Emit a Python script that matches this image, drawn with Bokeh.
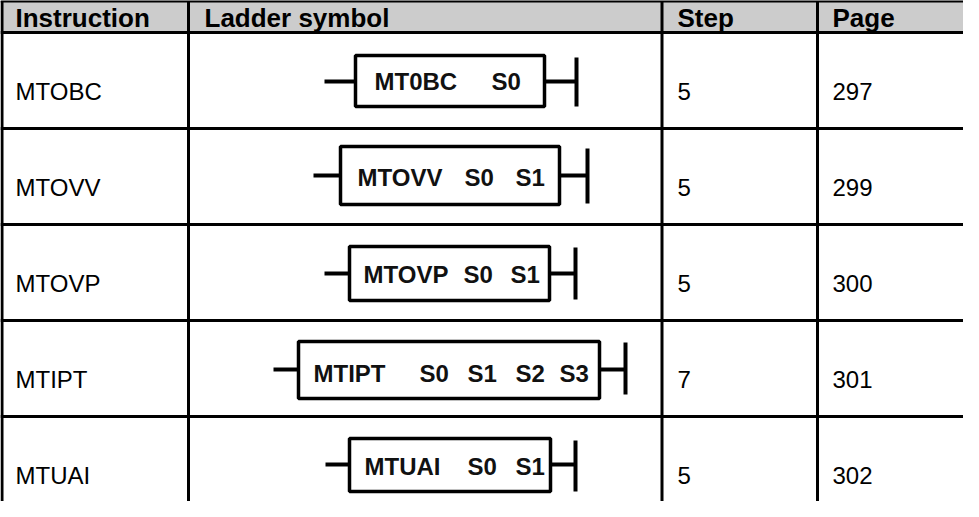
from bokeh.plotting import figure
from bokeh.models import Range1d
from bokeh.core.properties import value
from bokeh.embed import file_html
from bokeh.resources import INLINE

# ---- data ----
headers = ["Instruction", "Ladder symbol", "Step", "Page"]
instructions = ["MTOBC", "MTOVV", "MTOVP", "MTIPT", "MTUAI"]
symbol_names = ["MT0BC", "MTOVV", "MTOVP", "MTIPT", "MTUAI"]
operands = [["S0"], ["S0", "S1"], ["S0", "S1"], ["S0", "S1", "S2", "S3"], ["S0", "S1"]]
steps = ["5", "5", "5", "7", "5"]
pages = ["297", "299", "300", "301", "302"]

# ---- layout (page pixels) ----
W, H = 963, 501
X0, X1, Y0, Y1 = 8, 8 + W, 8, 8 + H
TXT_DY = -8  # correction for rendered baseline
col_lines = [9.5, 196, 669.5, 825]
col_text_x = [23, 212, 685, 840]
header_top, header_bot = 8.5, 40
row_tops = [40, 136, 232, 328, 424]
# ladder symbol geometry per row
lead_x = [332, 321, 332, 281, 333]
box_l = [363, 348, 357, 306, 357]
box_r = [552, 567, 557, 607, 558]
box_t = [63, 154, 254, 349, 446]
box_b = [114, 212, 308, 406, 499]
bar_x = [584, 595, 583, 633, 583]
bar_t = [65, 156, 255, 350, 448]
bar_b = [114, 211, 307, 402, 499]
lead_y = [89, 183, 281, 377, 472]
tok_x = [[382, 499], [365, 472, 523], [371, 471, 518], [321, 427, 475, 523, 567], [372, 475, 523]]
tok_base = [97, 193, 290, 389, 482]
tok_size = ["24px", "24px", "24px", "24px", "24px"]

p = figure(width=W, height=H, x_range=Range1d(X0, X1), y_range=Range1d(Y1, Y0),
           output_backend="svg", toolbar_location=None, min_border=0,
           outline_line_color=None, background_fill_color="white", border_fill_color="white")
p.axis.visible = False
p.grid.visible = False

# header fill
p.quad(left=[X0], right=[X1], top=[header_top], bottom=[header_bot],
       fill_color="#cccccc", line_color=None)

# horizontal lines
hy = [header_top, header_bot] + row_tops[1:]
p.segment(x0=[X0] * len(hy), x1=[X1] * len(hy), y0=hy, y1=hy, line_color="black", line_width=3)
# vertical lines
p.segment(x0=col_lines, x1=col_lines, y0=[header_top] * 4, y1=[Y1] * 4, line_color="black", line_width=3)

# header text
p.text(x=col_text_x, y=[33.5 + TXT_DY] * 4, text=headers, text_font=value("Liberation Sans"),
       text_font_style="bold", text_font_size="26px", text_baseline="alphabetic",
       text_align="left", text_color="black")

# body text
base = [t + 66.5 + TXT_DY for t in row_tops]
for xs, vals in [(col_text_x[0], instructions), (col_text_x[2], steps), (col_text_x[3], pages)]:
    p.text(x=[xs] * len(vals), y=base, text=vals, text_font=value("Liberation Sans"),
           text_font_size="24px", text_baseline="alphabetic", text_align="left",
           text_color="black")

# ladder symbols
p.segment(x0=lead_x, x1=box_l, y0=lead_y, y1=lead_y, line_color="black", line_width=4)
p.segment(x0=box_r, x1=bar_x, y0=lead_y, y1=lead_y, line_color="black", line_width=4)
p.segment(x0=bar_x, x1=bar_x, y0=bar_t, y1=bar_b, line_color="black", line_width=4)
p.quad(left=box_l, right=box_r, top=box_t, bottom=box_b, fill_color="white",
       line_color="black", line_width=3.5)
for i in range(len(instructions)):
    toks = [symbol_names[i]] + operands[i]
    p.text(x=tok_x[i], y=[tok_base[i] + TXT_DY] * len(toks), text=toks,
           text_font=value("Liberation Sans"), text_font_style="bold",
           text_font_size=tok_size[i], text_baseline="alphabetic", text_align="left",
           text_color="#111111")

open("out.html", "w").write(file_html(p, INLINE))
